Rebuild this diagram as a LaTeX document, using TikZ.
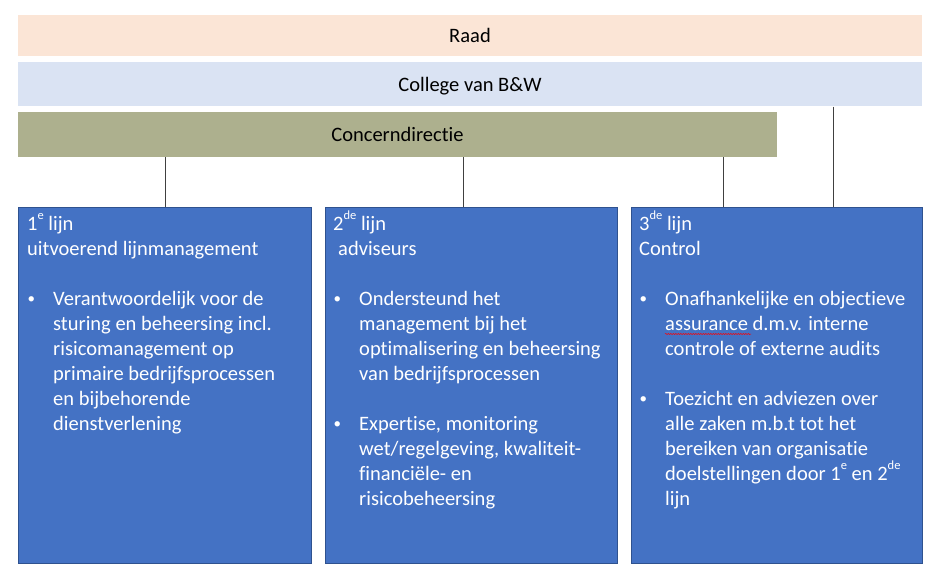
\documentclass[tikz,border=0pt]{standalone}
\usepackage{fontspec}
\setmainfont{Carlito}[Ligatures=NoCommon]
\usetikzlibrary{decorations.pathmorphing}
\definecolor{raadc}{HTML}{FBE5D6}
\definecolor{collegec}{HTML}{DAE3F3}
\definecolor{concernc}{HTML}{ADB08E}
\definecolor{boxc}{HTML}{4472C4}
\definecolor{boxline}{HTML}{2F528F}
\definecolor{connc}{HTML}{404040}
\newcommand{\blt}{\makebox[26pt][l]{\hspace*{0.5pt}{\fontsize{15}{15}\selectfont\raisebox{2pt}{•}}}}
\newcommand{\ind}{\hspace*{26pt}}
\newcommand{\sps}[1]{\raisebox{0.5em}[0pt][0pt]{\fontsize{12.5}{12.5}\selectfont #1}}
\begin{document}
\begin{tikzpicture}[x=1pt,y=-1pt,
  bar/.style={rectangle, inner sep=0pt, draw=none, font=\fontsize{20.5}{24}\selectfont, text=black, text height=14pt, text depth=0pt},
  lijnbox/.style={rectangle, inner sep=0pt, fill=boxc, draw=boxline, line width=0.6pt, minimum height=356pt, anchor=north west},
  boxtext/.style={inner sep=0pt, anchor=north west, align=left, text=white, font=\fontsize{20.5}{25}\selectfont},
  conn/.style={draw=connc, line width=0.8pt}]
\useasboundingbox (0,0) rectangle (934,577);
% bars
\node[bar, fill=raadc, minimum width=904pt, minimum height=41pt] (raad) at (470,35.5) {Raad};
\node[bar, fill=collegec, minimum width=904pt, minimum height=44pt] (college) at (470,84.5) {College van B\&W};
\node[bar, fill=concernc, minimum width=759pt, minimum height=44.5pt] (concern) at (397.5,134.75) {Concerndirectie};
% boxes
\node[lijnbox, minimum width=293pt] (b1) at (18,207) {};
\node[lijnbox, minimum width=292pt] (b2) at (325,207) {};
\node[lijnbox, minimum width=291pt] (b3) at (631,207) {};
% connectors
\coordinate (k1) at (165,0);
\coordinate (k2) at (463,0);
\coordinate (k3) at (723,0);
\coordinate (k4) at (833,0);
\draw[conn] (k1 |- concern.south) -- (k1 |- b1.north);
\draw[conn] (k2 |- concern.south) -- (k2 |- b2.north);
\draw[conn] (k3 |- concern.south) -- (k3 |- b3.north);
\draw[conn] (k4 |- college.south) -- (k4 |- b3.north);
% texts
\node[boxtext] (t1) at (27,212.5) {\strut 1\sps{e} lijn\\
uitvoerend lijnmanagement\\[25pt]
\blt Verantwoordelijk voor de\\
\ind sturing en beheersing incl.\\
\ind risicomanagement op\\
\ind primaire bedrijfsprocessen\\
\ind en bijbehorende\\
\ind dienstverlening};
\node[boxtext] (t2) at (333,212.5) {\strut 2\sps{de} lijn\\
\hspace*{5pt}adviseurs\\[25pt]
\blt Ondersteund het\\
\ind management bij het\\
\ind optimalisering en beheersing\\
\ind van bedrijfsprocessen\\[25pt]
\blt Expertise, monitoring\\
\ind wet/regelgeving, kwaliteit-\\
\ind financiële- en\\
\ind risicobeheersing};
\node[boxtext] (t3) at (639,212.5) {\strut 3\sps{de} lijn\\
Control\\[25pt]
\blt Onafhankelijke en objectieve\\
\ind assurance d.m.v. interne\\
\ind controle of externe audits\\[25pt]
\blt Toezicht en adviezen over\\
\ind alle zaken m.b.t tot het\\
\ind bereiken van organisatie\\
\ind doelstellingen door 1\sps{e} en 2\sps{de}\\
\ind lijn};
% spelling squiggle
\coordinate (sq1) at (665,334);
\coordinate (sq2) at (751,334);
\draw[red, line width=0.5pt, decorate, decoration={snake, amplitude=0.6pt, segment length=2.5pt}] (sq1) -- (sq2);
\end{tikzpicture}
\end{document}
